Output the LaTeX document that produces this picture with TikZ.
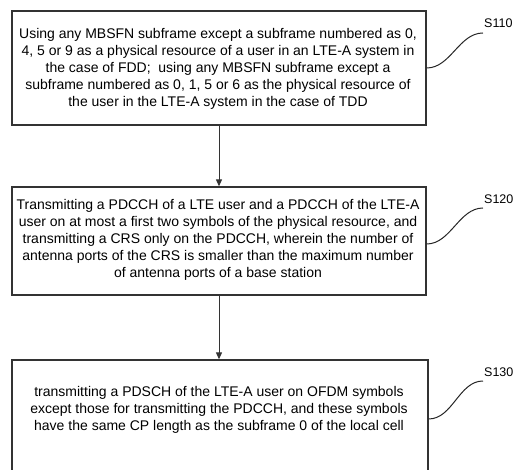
\documentclass[tikz,border=0pt]{standalone}
\usepackage{fontspec}
\setmainfont{Liberation Sans}
\usetikzlibrary{arrows.meta}

\begin{document}
\begin{tikzpicture}[x=1pt,y=-1pt,
  stepbox/.style={draw=black!80,line width=1.3pt,fill=white,inner sep=0pt},
  steptext/.style={align=center,font=\fontsize{14}{17}\selectfont,inner sep=0pt},
  steplabel/.style={anchor=west,font=\fontsize{12.5}{14}\selectfont,inner sep=0pt},
  flow/.style={draw=black!80,line width=1pt,-{Triangle[length=7pt,width=6pt]}},
  leader/.style={draw=black!85,line width=1pt}]
  \useasboundingbox (0,0) rectangle (515,470);

  % step S110
  \node[stepbox,minimum width=414pt,minimum height=114pt] (s1) at (219,68) {};
  \node[steptext] (t1) at (218,69) {Using any MBSFN subframe except a subframe numbered as 0,\\
    4, 5 or 9 as a physical resource of a user in an LTE-A system in\\
    the case of FDD;\ \ using any MBSFN subframe except a\\
    subframe numbered as 0, 1, 5 or 6 as the physical resource of\\
    the user in the LTE-A system in the case of TDD};

  % step S120
  \node[stepbox,minimum width=414pt,minimum height=108pt] (s2) at (219,241) {};
  \node[steptext] (t2) at (218,240) {Transmitting a PDCCH of a LTE user and a PDCCH of the LTE-A\\
    user on at most a first two symbols of the physical resource, and\\
    transmitting a CRS only on the PDCCH, wherein the number of\\
    antenna ports of the CRS is smaller than the maximum number\\
    of antenna ports of a base station};

  % step S130 (runs past the lower edge)
  \node[stepbox,minimum width=416pt,minimum height=120pt] (s3) at (220,420) {};
  \node[steptext] (t3) at (219,409.5) {transmitting a PDSCH of the LTE-A user on OFDM symbols\\
    except those for transmitting the PDCCH, and these symbols\\
    have the same CP length as the subframe 0 of the local cell};

  % flow arrows
  \draw[flow] (s1.south) -- (s2.north);
  \draw[flow] (s2.south -| s1.south) -- (s3.north -| s1.south);

  % step labels with leader curves
  \coordinate (c1) at (483,33);
  \coordinate (c2) at (483,208);
  \coordinate (c3) at (483,381);
  \node[steplabel] (l1) at (484,23) {S110};
  \node[steplabel] (l2) at (484,199) {S120};
  \node[steplabel] (l3) at (484,372) {S130};
  \draw[leader] (s1.east) .. controls +(24,0) and +(-24,0) .. (c1);
  \draw[leader] (s2.east |- 0,244) .. controls +(24,0) and +(-24,0) .. (c2);
  \draw[leader] (s3.east |- 0,419) .. controls +(24,0) and +(-24,0) .. (c3);
\end{tikzpicture}
\end{document}
